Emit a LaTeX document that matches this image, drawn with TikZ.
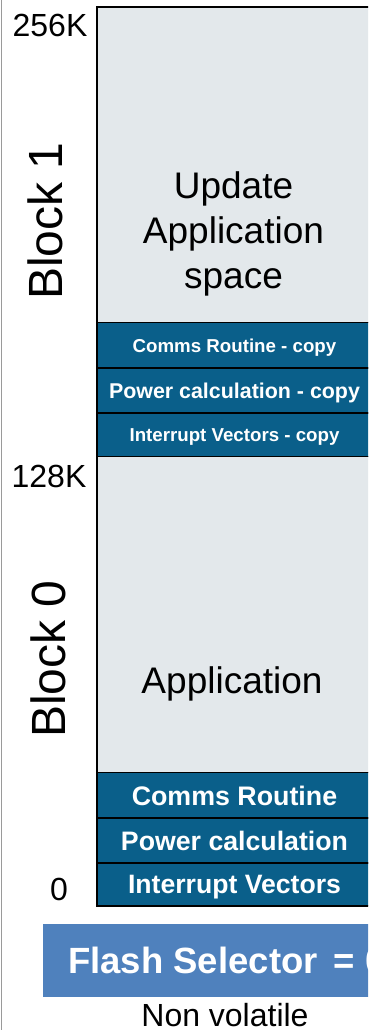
\documentclass[tikz,border=0pt]{standalone}
\usepackage{fontspec}
\setmainfont{Liberation Sans}
\usetikzlibrary{positioning}
\definecolor{memgrey}{HTML}{E3E8EB}
\definecolor{memblue}{HTML}{0A5F8A}
\definecolor{selblue}{HTML}{4F81BD}
\definecolor{edgegrey}{HTML}{9A9A9A}

\begin{document}
\begin{tikzpicture}[x=1pt, y=-1pt, node distance=0pt,
    region/.style={draw, line width=1.4pt, fill=memgrey, minimum width=275pt, outer sep=0pt, inner sep=0pt},
    bluebox/.style={region, fill=memblue, text=white, text depth=0pt},
    addr/.style={inner sep=0pt, anchor=base, font=\fontsize{32}{32}\selectfont},
    blklabel/.style={inner sep=0pt, rotate=90, font=\fontsize{48}{48}\selectfont}]

    \useasboundingbox (0,0) rectangle (368,1030);
    \clip (0,0) rectangle (368,1030);
    \draw[edgegrey, line width=1.8pt] (1.5,0) -- (1.5,1030);

    % Block 1
    \node (upd) [region, minimum height=315.7pt, anchor=north west] at (97,7) {};
    \node (commscopy) [bluebox, minimum height=45.3pt, below=of upd, font=\bfseries\fontsize{18.7}{18.7}\selectfont] {Comms Routine - copy};
    \node (powercopy) [bluebox, minimum height=45pt, below=of commscopy, font=\bfseries\fontsize{21.4}{21.4}\selectfont] {Power calculation - copy};
    \node (intcopy) [bluebox, minimum height=43.7pt, below=of powercopy, font=\bfseries\fontsize{18.7}{18.7}\selectfont] {Interrupt Vectors - copy};

    % Block 0
    \node (app) [region, minimum height=316pt, below=of intcopy] {};
    \node (comms) [bluebox, minimum height=45.3pt, below=of app, font=\bfseries\fontsize{26.8}{26.8}\selectfont] {Comms Routine};
    \node (power) [bluebox, minimum height=45pt, below=of comms, font=\bfseries\fontsize{26.7}{26.7}\selectfont] {Power calculation};
    \node (intvec) [bluebox, minimum height=43pt, below=of power, font=\bfseries\fontsize{26.6}{26.6}\selectfont] {Interrupt Vectors};

    % Labels
    \node (updtext) [align=center, inner sep=0pt, font=\fontsize{37}{45}\selectfont] at (233.5,233.5) {Update\\Application\\space};
    \node (apptext) [anchor=base, inner sep=0pt, font=\fontsize{37}{37}\selectfont] at (232,693) {Application};
    \node (addr256) [addr] at (50,37) {256K};
    \node (addr128) [addr] at (49,487) {128K};
    \node (addr0) [addr] at (59,900) {0};
    \node (blk1) [blklabel] at (45.5,221) {Block 1};
    \node (blk0) [blklabel] at (48.5,659) {Block 0};

    % Selector
    \node (flash) [fill=selblue, minimum width=340pt, minimum height=73pt, inner sep=0pt, anchor=north west] at (43,924) {};
    \node (flashtext) [anchor=base west, inner sep=0pt, text=white, font=\bfseries\fontsize{36.5}{36.5}\selectfont] at (68,973) {Flash Selector\kern6pt{} = 0};
    \node (nonvol) [anchor=base, inner sep=0pt, font=\fontsize{32}{32}\selectfont] at (225,1026) {Non volatile};
\end{tikzpicture}
\end{document}
